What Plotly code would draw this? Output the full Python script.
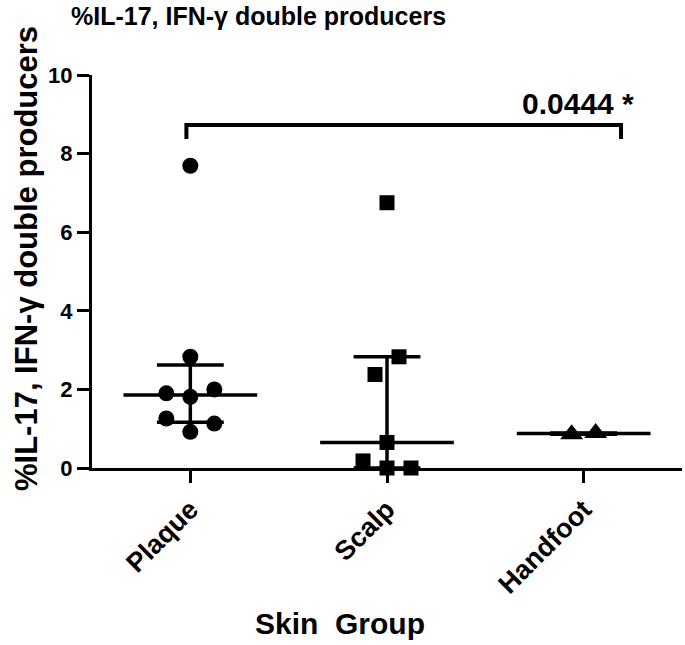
import numpy as np
import plotly.graph_objects as go

# ---------------- data ----------------
categories = ["Plaque", "Scalp", "Handfoot"]
plaque_values = [7.69, 2.83, 0.92, 1.13, 1.26, 1.81, 2.00, 1.90]
scalp_values = [6.75, 2.38, 2.83, 0.65, 0.00, 0.00, 0.18]
handfoot_values = [0.86, 0.89]
y_tick_values = [0, 2, 4, 6, 8, 10]
y_tick_labels = ["0", "2", "4", "6", "8", "10"]
p_value_label = "0.0444 *"
title_text = "%IL-17, IFN-\u03b3 double producers"
y_title_text = "%IL-17, IFN-\u03b3 double producers"
x_title_text = "Skin\u00a0 Group"

# ---------------- style ----------------
FONT = "Liberation Sans, Arial, Helvetica, sans-serif"
BLACK = "#000000"
symbols = ["circle", "square", "triangle-up"]
marker_sizes = [16, 15, 20]
JITTER_STEP = 0.122      # horizontal spacing of side-by-side points (category units)
GROUP_TOL = 0.5          # values closer than this share a row
MEDIAN_HALF = 0.34
QUART_HALF = 0.17
LW = 3.5

# comparison bracket (Plaque vs Handfoot)
bracket_left, bracket_right = -0.02, 2.19
bracket_top, bracket_foot = 8.73, 8.37
p_label_x, p_label_y = 1.97, 9.28


def jitter_offsets(vals):
    vals = list(vals)
    order = sorted(range(len(vals)), key=lambda i: vals[i])
    groups, cur = [], [order[0]]
    for i in order[1:]:
        if vals[i] - vals[cur[0]] < GROUP_TOL:
            cur.append(i)
        else:
            groups.append(cur)
            cur = [i]
    groups.append(cur)
    off = [0.0] * len(vals)
    for g in groups:
        g = sorted(g)
        k = len(g)
        if k % 2 == 1:
            slots = [0]
            for j in range(1, k // 2 + 1):
                slots += [j, -j]
        else:
            slots = []
            for j in range(k // 2):
                slots += [-(j + 0.5), j + 0.5]
        for idx, s in zip(g, slots):
            off[idx] = s * JITTER_STEP
    return off


fig = go.Figure()
all_groups = [plaque_values, scalp_values, handfoot_values]

for ci, vals in enumerate(all_groups):
    arr = np.array(vals, dtype=float)
    med = float(np.median(arr))
    q1 = float(np.percentile(arr, 25, method="weibull"))
    q3 = float(np.percentile(arr, 75, method="weibull"))
    # median line
    fig.add_trace(go.Scatter(x=[ci - MEDIAN_HALF, ci + MEDIAN_HALF], y=[med, med],
                             mode="lines", line=dict(color=BLACK, width=LW),
                             hoverinfo="skip", showlegend=False, cliponaxis=False))
    # quartile caps and vertical range
    fig.add_trace(go.Scatter(x=[ci - QUART_HALF, ci + QUART_HALF, None,
                                ci - QUART_HALF, ci + QUART_HALF, None, ci, ci],
                             y=[q1, q1, None, q3, q3, None, q1, q3],
                             mode="lines", line=dict(color=BLACK, width=LW),
                             hoverinfo="skip", showlegend=False, cliponaxis=False))
    offs = jitter_offsets(vals)
    fig.add_trace(go.Scatter(x=[ci + o for o in offs], y=vals, mode="markers",
                             marker=dict(symbol=symbols[ci], size=marker_sizes[ci],
                                         color=BLACK, line=dict(width=0)),
                             name=categories[ci], showlegend=False, cliponaxis=False))

# significance bracket
fig.add_trace(go.Scatter(x=[bracket_left, bracket_left, bracket_right, bracket_right],
                         y=[bracket_foot, bracket_top, bracket_top, bracket_foot],
                         mode="lines", line=dict(color=BLACK, width=4),
                         hoverinfo="skip", showlegend=False, cliponaxis=False))
fig.add_annotation(x=p_label_x, y=p_label_y, xref="x", yref="y", text=p_value_label,
                   showarrow=False, font=dict(family=FONT, size=30, color=BLACK, weight="bold"),
                   xanchor="center", yanchor="middle")

# titles (paper coords: plot area 590 x 392.7 px)
fig.add_annotation(x=0.283, y=1.150, xref="paper", yref="paper", text=title_text,
                   showarrow=False, font=dict(family=FONT, size=25, color=BLACK, weight="bold"),
                   xanchor="center", yanchor="middle")
fig.add_annotation(x=-0.110, y=0.532, xref="paper", yref="paper", text=y_title_text,
                   textangle=-90, showarrow=False,
                   font=dict(family=FONT, size=31, color=BLACK, weight="bold"),
                   xanchor="center", yanchor="middle")
fig.add_annotation(x=0.42, y=-0.3955, xref="paper", yref="paper", text=x_title_text,
                   showarrow=False, font=dict(family=FONT, size=30, color=BLACK, weight="bold"),
                   xanchor="center", yanchor="middle")

fig.update_layout(
    width=685, height=645,
    margin=dict(l=92, r=3, t=75, b=177.3, autoexpand=False),
    paper_bgcolor="white", plot_bgcolor="white",
    showlegend=False,
    xaxis=dict(range=[-0.5, 2.5], tickmode="array", tickvals=[0, 1, 2], ticktext=categories,
               tickangle=-45, showline=True, linecolor=BLACK, linewidth=3,
               ticks="outside", ticklen=12, tickwidth=3, tickcolor=BLACK,
               showgrid=False, zeroline=False, automargin=False,
               tickfont=dict(family=FONT, size=27, color=BLACK, weight="bold")),
    yaxis=dict(range=[0, 10], tickmode="array", tickvals=y_tick_values, ticktext=y_tick_labels,
               showline=True, linecolor=BLACK, linewidth=3,
               ticks="outside", ticklen=12, tickwidth=3, tickcolor=BLACK,
               showgrid=False, zeroline=False, automargin=False,
               tickfont=dict(family=FONT, size=22, color=BLACK, weight="bold")),
)

# remove the default page-body margin so the 685x645 figure fills the window exactly
fig.write_html("out.html", config={"displayModeBar": False},
               post_script="document.body.style.margin='0';")
